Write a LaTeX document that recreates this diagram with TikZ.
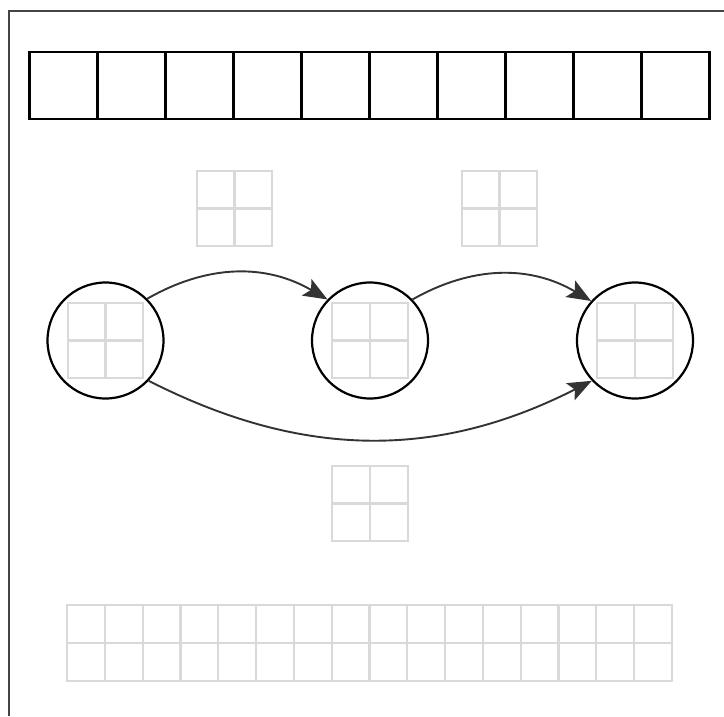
\documentclass[tikz,border=0pt]{standalone}
\usetikzlibrary{arrows.meta}
\definecolor{framegray}{HTML}{444444}
\definecolor{arrowgray}{HTML}{333333}
\definecolor{gridgray}{HTML}{D9D9D9}
\tikzset{
  cellbox/.style={draw=black, line width=2.3pt, minimum width=68pt, minimum height=67pt, inner sep=0pt, outer sep=0pt},
  gcell/.style={draw=gridgray, line width=2.2pt, minimum width=37.8pt, minimum height=37.8pt, inner sep=0pt, outer sep=0pt},
  statecircle/.style={draw=black, line width=2.2pt, circle, minimum size=116pt, inner sep=0pt},
  link/.style={draw=arrowgray, line width=1.9pt, -{Stealth[length=24pt, width=19pt, inset=5pt]}}
}
\newcommand{\grida}[3]{% name, center x, center y
  \node[gcell] (#1a) at (#2-18.9,#3-18.9) {};
  \node[gcell] (#1b) at (#2+18.9,#3-18.9) {};
  \node[gcell] (#1c) at (#2-18.9,#3+18.9) {};
  \node[gcell] (#1d) at (#2+18.9,#3+18.9) {};
}
\begin{document}
\begin{tikzpicture}[x=1pt,y=-1pt]
\useasboundingbox (0,0) rectangle (724,716);
\fill[white] (0,0) rectangle (724,716);
% frame
\draw[framegray, line width=2.5pt] (9,716) -- (9,11) -- (724,11);
% top row
\foreach \i in {0,...,9} {
  \node[cellbox] (t\i) at (29.5+34+68*\i,85.5) {};
}
% small grids above
\grida{ga}{234.5}{208.5}
\grida{gb}{499.5}{208.5}
% circles with grids
\grida{gc}{105.5}{340.5}
\grida{gd}{370}{340.5}
\grida{ge}{635}{340.5}
\node[statecircle] (c1) at (105.5,340.5) {};
\node[statecircle] (c2) at (370,340.5) {};
\node[statecircle] (c3) at (635,340.5) {};
% grid below
\grida{gf}{370}{503.5}
% bottom row grid
\foreach \i in {0,...,15} {
  \node[gcell] (ba\i) at (67+18.9+37.8*\i,624) {};
  \node[gcell] (bb\i) at (67+18.9+37.8*\i,661.8) {};
}
% arrows
\draw[link] (c1.45) to[bend left=30] (c2.136);
\draw[link] (c2.44) to[bend left=30] (c3.138);
\draw[link] (c1.-43) to[bend right=27] (c3.-137);
\end{tikzpicture}
\end{document}
